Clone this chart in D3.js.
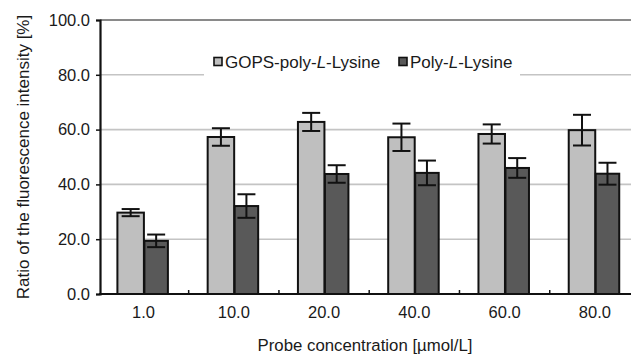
<!DOCTYPE html>
<html>
<head>
<meta charset="utf-8">
<script src="https://cdn.jsdelivr.net/npm/d3@7"></script>
<style>
body { margin: 0; background: #fff; }
</style>
</head>
<body>
<div id="chart"></div>
<script>
// values
const categories = ["1.0", "10.0", "20.0", "40.0", "60.0", "80.0"];
const series = ["GOPS-poly-L-Lysine", "Poly-L-Lysine"];
const gops = [29.7, 57.3, 62.8, 57.2, 58.4, 59.8];
const gopsErr = [1.3, 3.2, 3.3, 5.0, 3.5, 5.6];
const poly = [19.4, 32.1, 43.8, 44.2, 46.0, 43.9];
const polyErr = [2.3, 4.3, 3.2, 4.5, 3.6, 4.0];
const yTicks = [0, 20, 40, 60, 80, 100];

const W = 631, H = 355;
const mLeft = 100, mTop = 20, mBottom = 294, mRight = 640;
const FONT = "Liberation Sans, Arial, sans-serif";

var svg = d3.select("#chart")
            .append("svg")
            .attr("width", W)
            .attr("height", H)
            .attr("font-family", FONT);

const y = d3.scaleLinear().domain([0, 100]).range([mBottom, mTop]);
const x0 = d3.scaleBand().domain(categories).range([98.4, mRight]);
const x1 = d3.scaleBand().domain(series).range([19.5, 71.5]);

// gridlines
svg.append("g")
    .selectAll("line")
    .data(yTicks.filter(d => d > 0 && d < 100))
    .join("line")
    .attr("x1", mLeft)
    .attr("x2", W)
    .attr("y1", d => y(d))
    .attr("y2", d => y(d))
    .attr("stroke", "#c4c4c4")
    .attr("stroke-width", 1.6);

// top line
svg.append("line")
    .attr("x1", mLeft).attr("x2", W)
    .attr("y1", y(100)).attr("y2", y(100))
    .attr("stroke", "#8a8a8a")
    .attr("stroke-width", 1.8);

// legend box hides part of the 80 gridline
svg.append("rect")
    .attr("x", 204).attr("y", 50)
    .attr("width", 316).attr("height", 26)
    .attr("fill", "#fff");

const colors = ["#bfbfbf", "#595959"];
const vals = [gops, poly];
const errs = [gopsErr, polyErr];

const groups = svg.append("g")
    .selectAll("g")
    .data(categories)
    .join("g")
    .attr("transform", d => `translate(${x0(d)},0)`);

series.forEach((s, si) => {
    const w = si == 0 ? x1.bandwidth() + 0.5 : x1.bandwidth() - 2.5;
    const xs = si == 0 ? x1(s) - 0.5 : x1(s) + 0.5;
    groups.append("rect")
        .attr("x", xs)
        .attr("width", w)
        .attr("y", (d, i) => y(vals[si][i]))
        .attr("height", (d, i) => mBottom - y(vals[si][i]))
        .attr("fill", colors[si])
        .attr("stroke", "#111")
        .attr("stroke-width", 2);

    const cx = xs + w / 2;
    groups.append("line")
        .attr("x1", cx).attr("x2", cx)
        .attr("y1", (d, i) => y(vals[si][i] + errs[si][i]))
        .attr("y2", (d, i) => y(vals[si][i] - errs[si][i]))
        .attr("stroke", "#111").attr("stroke-width", 2);
    [1, -1].forEach(sg => {
        groups.append("line")
            .attr("x1", cx - 9).attr("x2", cx + 9)
            .attr("y1", (d, i) => y(vals[si][i] + sg * errs[si][i]))
            .attr("y2", (d, i) => y(vals[si][i] + sg * errs[si][i]))
            .attr("stroke", "#111").attr("stroke-width", 2);
    });
});

// y axis
const yAxis = d3.axisLeft(y).tickValues(yTicks).tickSize(4).tickPadding(6)
    .tickFormat(d3.format(".1f"));
const gy = svg.append("g")
    .attr("transform", `translate(${mLeft},0)`)
    .call(yAxis);
gy.attr("font-family", FONT).attr("font-size", 16.5);
gy.select(".domain").attr("stroke", "#111").attr("stroke-width", 2.2);
gy.selectAll(".tick line").attr("stroke", "#111").attr("stroke-width", 1.5);
gy.selectAll(".tick text").attr("fill", "#1a1a1a");

// x axis
svg.append("line")
    .attr("x1", mLeft - 1).attr("x2", W)
    .attr("y1", mBottom).attr("y2", mBottom)
    .attr("stroke", "#111").attr("stroke-width", 2.2);
svg.append("g")
    .selectAll("line")
    .data(categories.slice(1))
    .join("line")
    .attr("x1", d => x0(d)).attr("x2", d => x0(d))
    .attr("y1", mBottom).attr("y2", mBottom - 4)
    .attr("stroke", "#111").attr("stroke-width", 1.5);
svg.append("g")
    .selectAll("text")
    .data(categories)
    .join("text")
    .attr("x", d => x0(d) + x0.bandwidth() / 2)
    .attr("y", 317.5)
    .attr("text-anchor", "middle")
    .attr("font-size", 16.5)
    .attr("fill", "#1a1a1a")
    .text(d => d);

// axis titles
svg.append("text")
    .attr("x", 365).attr("y", 351)
    .attr("text-anchor", "middle")
    .attr("font-size", 16.8)
    .attr("fill", "#1a1a1a")
    .text("Probe concentration [\u00b5mol/L]");
svg.append("text")
    .attr("transform", "translate(29,157) rotate(-90)")
    .attr("text-anchor", "middle")
    .attr("font-size", 17)
    .attr("fill", "#1a1a1a")
    .text("Ratio of the fluorescence intensity [%]");

// legend
const lg = [
    { x: 213, label: ["GOPS-poly-", "L", "-Lysine"] },
    { x: 398, label: ["Poly-", "L", "-Lysine"] }
];
lg.forEach((l, i) => {
    svg.append("rect")
        .attr("x", l.x + 1).attr("y", 57.5)
        .attr("width", 8).attr("height", 8)
        .attr("fill", colors[i])
        .attr("stroke", "#111").attr("stroke-width", 1.6);
    const t = svg.append("text")
        .attr("x", l.x + 12).attr("y", 67.5)
        .attr("font-size", 17)
        .attr("fill", "#1a1a1a");
    l.label.forEach((p, j) => {
        t.append("tspan").attr("font-style", j == 1 ? "italic" : "normal").text(p);
    });
});
</script>
</body>
</html>
